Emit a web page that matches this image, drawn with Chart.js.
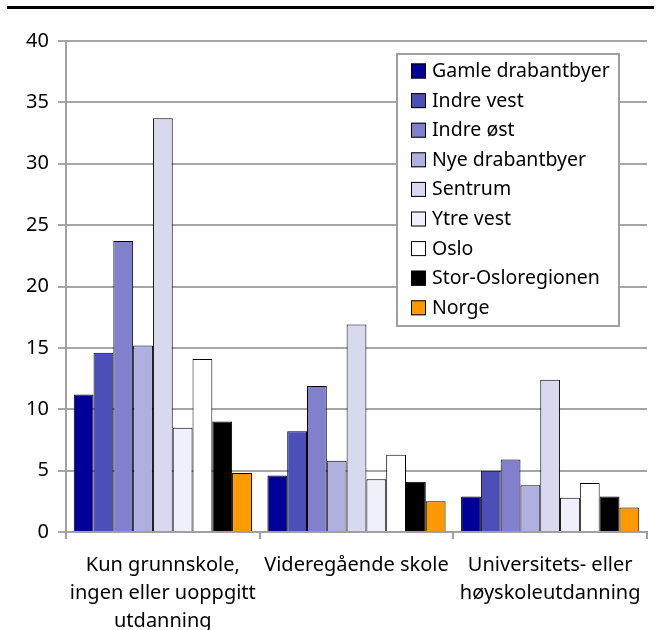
<!DOCTYPE html>
<html>
<head>
<meta charset="utf-8">
<script src="https://cdn.jsdelivr.net/npm/chart.js@4/dist/chart.umd.min.js"></script>
<style>
  html, body { margin: 0; padding: 0; background: #fff; }
  canvas { display: block; }
</style>
</head>
<body>
<canvas id="chart" width="661" height="630"></canvas>
<script>
"use strict";

const categories = [
    ['Kun grunnskole,', 'ingen eller uoppgitt', 'utdanning'],
    ['Videregående skole'],
    ['Universitets- eller', 'høyskoleutdanning']
];

const seriesNames = [
    'Gamle drabantbyer', 'Indre vest', 'Indre øst', 'Nye drabantbyer',
    'Sentrum', 'Ytre vest', 'Oslo', 'Stor-Osloregionen', 'Norge'
];

const gamleDrabantbyer = [11.2, 4.6, 2.9];
const indreVest = [14.6, 8.2, 5.0];
const indreOst = [23.7, 11.9, 5.9];
const nyeDrabantbyer = [15.2, 5.8, 3.8];
const sentrum = [33.7, 16.9, 12.4];
const ytreVest = [8.5, 4.3, 2.8];
const oslo = [14.1, 6.3, 4.0];
const storOsloregionen = [9.0, 4.1, 2.9];
const norge = [4.8, 2.5, 2.0];

const yTicks = [0, 5, 10, 15, 20, 25, 30, 35, 40];

const seriesValues = [gamleDrabantbyer, indreVest, indreOst, nyeDrabantbyer,
    sentrum, ytreVest, oslo, storOsloregionen, norge];
const colors = ['#000099', '#4c4fb8', '#8080cc', '#b0b0e0', '#d8d8ee',
    '#f0f0fa', '#ffffff', '#000000', '#ff9900'];

const FONT = '"Noto Sans", sans-serif';

// black rule at the top + legend box inside the plot
const decorations = {
    id: 'decorations',
    beforeDraw(chart) {
        const ctx = chart.ctx;
        ctx.save();
        ctx.fillStyle = '#000';
        ctx.fillRect(7, 6, 647, 3);
        ctx.restore();
    },
    afterDraw(chart) {
        const ctx = chart.ctx;
        const x = 397, y = 54, w = 222, h = 272;
        ctx.save();
        ctx.fillStyle = '#fff';
        ctx.fillRect(x, y, w, h);
        ctx.strokeStyle = '#a0a0a0';
        ctx.lineWidth = 2;
        ctx.strokeRect(x, y, w, h);
        ctx.font = '19.5px ' + FONT;
        ctx.textBaseline = 'middle';
        chart.data.datasets.forEach((ds, i) => {
            const cy = 70.5 + i * 29.6;
            ctx.fillStyle = ds.backgroundColor;
            ctx.fillRect(411, cy - 7, 15, 15);
            ctx.strokeStyle = '#000';
            ctx.lineWidth = 1;
            ctx.strokeRect(411.5, cy - 6.5, 14, 14);
            ctx.fillStyle = '#000';
            ctx.fillText(ds.label, 432, cy + 1);
        });
        ctx.restore();
    }
};

const ctx = document.getElementById('chart').getContext('2d');
const chart = new Chart(ctx, {
    type: 'bar',
    data: {
        labels: categories,
        datasets: seriesNames.map((name, i) => ({
            label: name,
            data: seriesValues[i],
            backgroundColor: colors[i],
            borderColor: '#000',
            borderWidth: 1,
            borderSkipped: 'bottom',
            categoryPercentage: 0.92,
            barPercentage: 1.0
        }))
    },
    options: {
        responsive: false,
        animation: false,
        devicePixelRatio: 1,
        layout: { padding: { left: 0, right: 14, top: 41, bottom: 0 } },
        plugins: {
            legend: { display: false },
            tooltip: { enabled: false }
        },
        scales: {
            x: {
                grid: {
                    offset: true,
                    drawOnChartArea: false,
                    drawTicks: true,
                    tickLength: 7,
                    color: '#a0a0a0',
                    lineWidth: 2
                },
                border: { color: '#a0a0a0', width: 2 },
                ticks: {
                    color: '#000',
                    font: { family: FONT, size: 20, lineHeight: 1.4 },
                    padding: 12,
                    maxRotation: 0,
                    autoSkip: false
                },
                afterFit(scale) { scale.height = 98; }
            },
            y: {
                min: 0,
                max: 40,
                afterBuildTicks(scale) { scale.ticks = yTicks.map(v => ({ value: v })); },
                grid: {
                    color: '#a6a6a6',
                    lineWidth: 2,
                    tickLength: 8
                },
                border: { color: '#a0a0a0', width: 2 },
                ticks: {
                    color: '#000',
                    font: { family: FONT, size: 20 },
                    padding: 9
                },
                afterFit(scale) { scale.width = 66; }
            }
        }
    },
    plugins: [decorations]
});
</script>
</body>
</html>
